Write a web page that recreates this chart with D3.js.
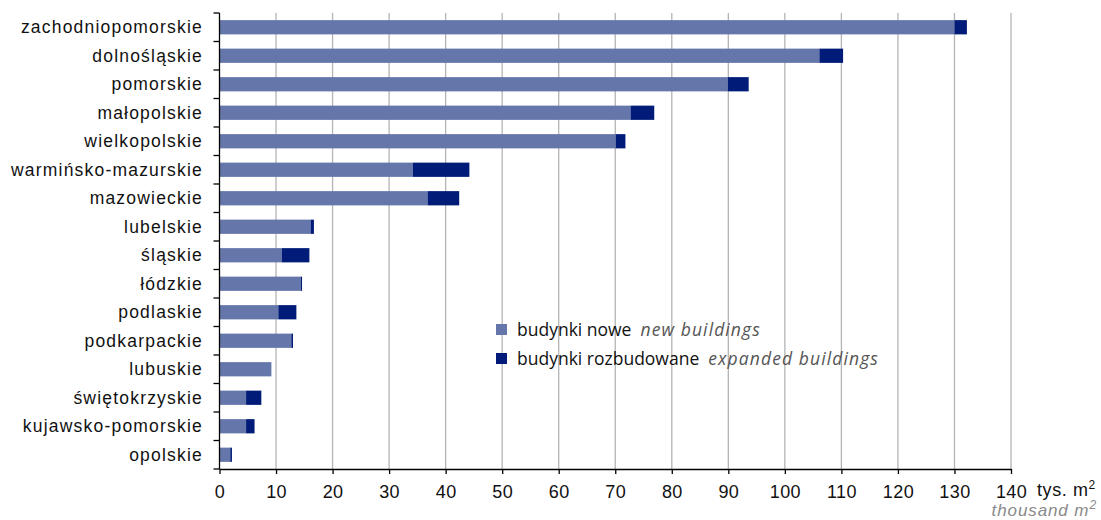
<!DOCTYPE html>
<html><head><meta charset="utf-8">
<script src="https://cdn.jsdelivr.net/npm/d3@7"></script>
<style>body{margin:0;background:#fff}svg{display:block}</style>
</head><body><svg id="c" width="1101" height="520"></svg>
<script>
const categories = ["zachodniopomorskie","dolnośląskie","pomorskie","małopolskie","wielkopolskie","warmińsko-mazurskie","mazowieckie","lubelskie","śląskie","łódzkie","podlaskie","podkarpackie","lubuskie","świętokrzyskie","kujawsko-pomorskie","opolskie"];
const newBuildings = [130.0,106.1,89.9,72.7,70.1,34.2,36.8,16.1,11.0,14.4,10.4,12.7,9.1,4.7,4.7,1.9];
const expandedBuildings = [2.2,4.2,3.7,4.2,1.7,10.0,5.6,0.6,4.9,0.2,3.2,0.3,0.05,2.7,1.5,0.3];
const xTicks = [0,10,20,30,40,50,60,70,80,90,100,110,120,130,140];

const svg = d3.select("#c");
const TOP = 13, BOT = 469;
const x = d3.scaleLinear().domain([0,140]).range([219.5,1011]);
const y = d3.scaleBand().domain(categories).range([TOP,BOT]).paddingInner(0.5).paddingOuter(0.25);
const colNew = "#6576ab", colExp = "#001c78";
const FONT = "Liberation Sans, Arial, sans-serif";

svg.append("g").selectAll("line").data(xTicks.filter(d=>d>0)).join("line")
  .attr("x1",d=>x(d)).attr("x2",d=>x(d)).attr("y1",TOP).attr("y2",BOT)
  .attr("stroke","#b4b4b4").attr("stroke-width",1.3);

const g = svg.append("g");
g.selectAll("rect.n").data(categories).join("rect").attr("class","n")
  .attr("x",x(0)).attr("y",d=>y(d)).attr("height",y.bandwidth())
  .attr("width",(d,i)=>x(newBuildings[i])-x(0)).attr("fill",colNew);
g.selectAll("rect.e").data(categories).join("rect").attr("class","e")
  .attr("x",(d,i)=>x(newBuildings[i])).attr("y",d=>y(d)).attr("height",y.bandwidth())
  .attr("width",(d,i)=>x(newBuildings[i]+expandedBuildings[i])-x(newBuildings[i])).attr("fill",colExp);

const xa = svg.append("g").attr("transform",`translate(0,${BOT})`)
  .call(d3.axisBottom(x).tickValues(xTicks).tickSize(5).tickSizeOuter(0).tickPadding(11));
xa.selectAll("text").attr("font-family",FONT).attr("font-size",18).attr("letter-spacing",0.4).attr("fill","#111");
xa.selectAll("line,path").attr("stroke","#000").attr("stroke-width",1.3);

const yTickPos = d3.range(categories.length+1).map(i=>TOP+i*((BOT-TOP)/16));
svg.append("line").attr("x1",219.5).attr("x2",219.5).attr("y1",TOP).attr("y2",BOT).attr("stroke","#000").attr("stroke-width",1.3);
svg.append("g").selectAll("line").data(yTickPos).join("line")
  .attr("x1",213.5).attr("x2",219.5).attr("y1",d=>d).attr("y2",d=>d).attr("stroke","#000").attr("stroke-width",1.3);
svg.append("g").selectAll("text").data(categories).join("text")
  .attr("x",203).attr("y",d=>y(d)+y.bandwidth()/2).attr("dy","0.35em")
  .attr("text-anchor","end").attr("font-family",FONT).attr("font-size",17.5).attr("letter-spacing",1.2).attr("fill","#111")
  .text(d=>d);

const u = svg.append("text").attr("x",1037).attr("y",496).attr("font-family",FONT).attr("font-size",18).attr("letter-spacing",0.6).attr("fill","#111");
u.append("tspan").text("tys. m");
u.append("tspan").attr("font-size",12).attr("dy",-7).text("2");
const u2 = svg.append("text").attr("x",1097).attr("y",516).attr("text-anchor","end").attr("font-family",FONT).attr("font-size",17).attr("letter-spacing",0.9).attr("font-style","italic").attr("fill","#8a8a8a");
u2.append("tspan").text("thousand m");
u2.append("tspan").attr("font-size",12).attr("dy",-7).text("2");

const legend = [{pl:"budynki nowe", en:"new buildings", c:colNew},{pl:"budynki rozbudowane", en:"expanded buildings", c:colExp}];
const lg = svg.append("g");
legend.forEach((l,i)=>{
  const yy = 330 + i*29;
  lg.append("rect").attr("x",496).attr("y",yy-6).attr("width",11).attr("height",11).attr("fill",l.c);
  const t = lg.append("text").attr("x",517).attr("y",yy).attr("dy","0.35em").attr("font-family","Open Sans, sans-serif").attr("font-size",17.5).attr("fill","#111");
  t.append("tspan").text(l.pl);
  t.append("tspan").attr("dx",9).attr("font-style","italic").attr("letter-spacing",1.1).attr("fill","#555").text(l.en);
});
</script></body></html>
